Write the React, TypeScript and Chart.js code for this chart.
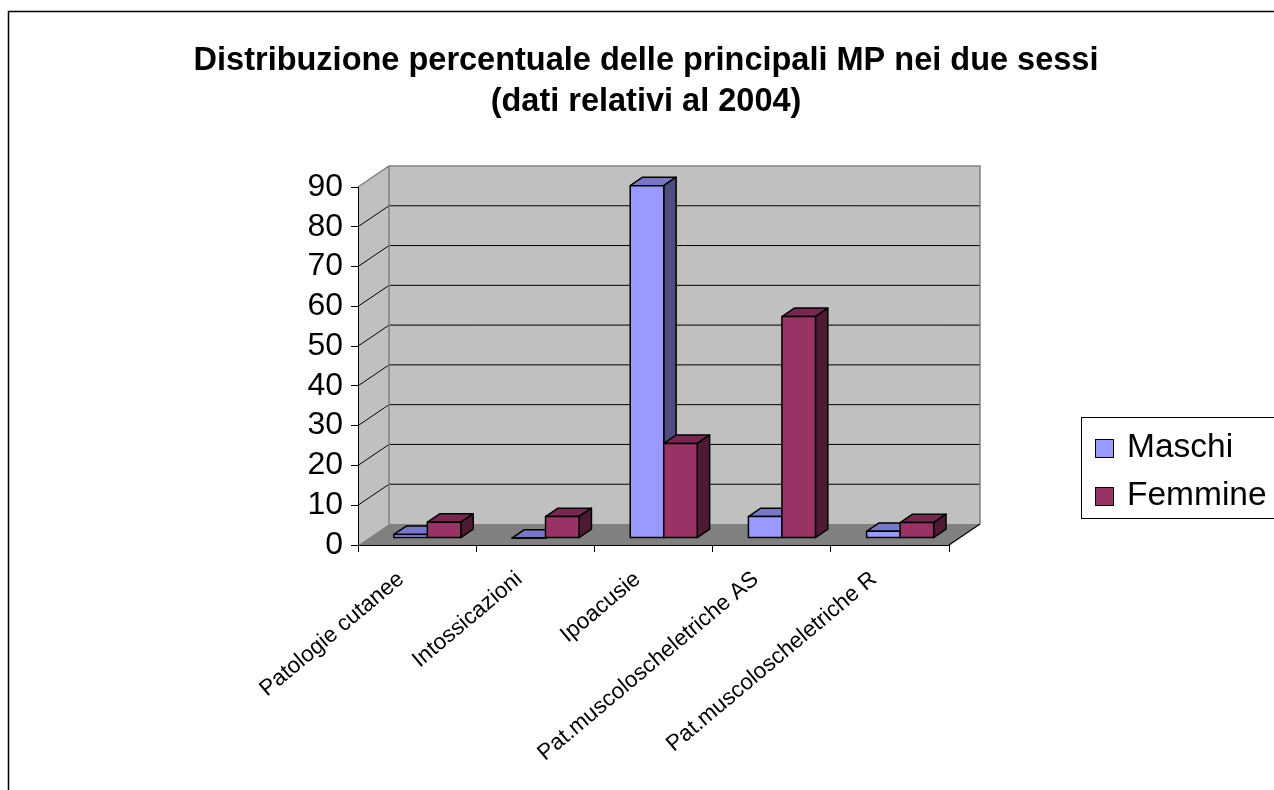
import React, { useEffect, useRef } from "react";
import { Chart, registerables } from "chart.js";

Chart.register(...registerables);

// ---- data ----
const categories = [
  "Patologie cutanee",
  "Intossicazioni",
  "Ipoacusie",
  "Pat.muscoloscheletriche AS",
  "Pat.muscoloscheletriche R",
];
const maschi = [0.9, 0, 88.6, 5.4, 1.7];
const femmine = [4.0, 5.4, 23.8, 55.7, 3.9];
const seriesNames = ["Maschi", "Femmine"];
const seriesColors = ["#9999FF", "#993366"];
const yMax = 90;
const yStep = 10;
const titleLines = [
  "Distribuzione percentuale delle principali MP nei due sessi",
  "(dati relativi al 2004)",
];

// ---- styling / geometry ----
const FONT = '"Liberation Sans", Arial, Helvetica, sans-serif';
const W = 1274;
const H = 790;
const PLOT = { left: 358, right: 949, top: 187, bottom: 545 };
const DEPTH = { x: 31, y: -21 }; // projection of the full floor depth
const BAR_FRONT = 0.33; // fraction of depth where bars start
const BAR_DEPTH = 0.4; // fraction of depth the bars occupy

function shade(hex: string, f: number): string {
  const n = parseInt(hex.slice(1), 16);
  const r = Math.round(((n >> 16) & 255) * f);
  const g = Math.round(((n >> 8) & 255) * f);
  const b = Math.round((n & 255) * f);
  return `rgb(${r},${g},${b})`;
}

function poly(ctx: CanvasRenderingContext2D, pts: number[][]) {
  ctx.beginPath();
  ctx.moveTo(pts[0][0], pts[0][1]);
  for (let i = 1; i < pts.length; i++) ctx.lineTo(pts[i][0], pts[i][1]);
  ctx.closePath();
}

const scene3d = {
  id: "scene3d",
  beforeDraw(chart: any) {
    const { ctx, chartArea: a, scales } = chart;
    const ys = scales.y;
    const dx = DEPTH.x;
    const dy = DEPTH.y;
    ctx.save();

    // outer frame
    ctx.strokeStyle = "#000";
    ctx.lineWidth = 1.5;
    ctx.beginPath();
    ctx.moveTo(8.5, H + 5);
    ctx.lineTo(8.5, 11.5);
    ctx.lineTo(W + 5, 11.5);
    ctx.stroke();

    // back wall
    ctx.fillStyle = "#C0C0C0";
    ctx.fillRect(a.left + dx, a.top + dy, a.right - a.left, a.bottom - a.top);
    // side wall
    poly(ctx, [
      [a.left, a.top],
      [a.left + dx, a.top + dy],
      [a.left + dx, a.bottom + dy],
      [a.left, a.bottom],
    ]);
    ctx.fill();
    // floor
    ctx.fillStyle = "#808080";
    poly(ctx, [
      [a.left, a.bottom],
      [a.right, a.bottom],
      [a.right + dx, a.bottom + dy],
      [a.left + dx, a.bottom + dy],
    ]);
    ctx.fill();

    // gridlines on both walls
    ctx.strokeStyle = "#000";
    ctx.lineWidth = 1;
    ys.ticks.forEach((t: any) => {
      if (t.value <= 0 || t.value >= yMax) return;
      const py = ys.getPixelForValue(t.value);
      ctx.beginPath();
      ctx.moveTo(a.left, py);
      ctx.lineTo(a.left + dx, py + dy);
      ctx.lineTo(a.right + dx, py + dy);
      ctx.stroke();
    });

    // wall outline
    ctx.strokeStyle = "#808080";
    ctx.lineWidth = 1.5;
    ctx.beginPath();
    ctx.moveTo(a.left, a.top);
    ctx.lineTo(a.left + dx, a.top + dy);
    ctx.lineTo(a.right + dx, a.top + dy);
    ctx.lineTo(a.right + dx, a.bottom + dy);
    ctx.moveTo(a.left + dx, a.top + dy);
    ctx.lineTo(a.left + dx, a.bottom + dy);
    ctx.stroke();

    // floor right edge
    ctx.strokeStyle = "#000";
    ctx.lineWidth = 1.2;
    ctx.beginPath();
    ctx.moveTo(a.right, a.bottom);
    ctx.lineTo(a.right + dx, a.bottom + dy);
    ctx.stroke();
    ctx.restore();
  },
  beforeDatasetDraw() {
    return false;
  },
  afterDatasetsDraw(chart: any) {
    const { ctx } = chart;
    const fdx = DEPTH.x * BAR_FRONT;
    const fdy = DEPTH.y * BAR_FRONT;
    const ddx = DEPTH.x * BAR_DEPTH;
    const ddy = DEPTH.y * BAR_DEPTH;
    ctx.save();
    ctx.lineJoin = "round";
    ctx.strokeStyle = "#000";
    ctx.lineWidth = 1.5;
    const n = chart.data.labels.length;
    for (let i = 0; i < n; i++) {
      chart.data.datasets.forEach((ds: any, di: number) => {
        const el = chart.getDatasetMeta(di).data[i];
        const { x, y, base, width } = el.getProps(["x", "y", "base", "width"], true);
        const color = seriesColors[di];
        const x0 = x - width / 2 + fdx;
        const x1 = x + width / 2 + fdx;
        const yt = y + fdy;
        const yb = base + fdy;
        // top
        ctx.fillStyle = shade(color, 0.78);
        poly(ctx, [
          [x0, yt],
          [x1, yt],
          [x1 + ddx, yt + ddy],
          [x0 + ddx, yt + ddy],
        ]);
        ctx.fill();
        ctx.stroke();
        // side
        ctx.fillStyle = shade(color, 0.5);
        poly(ctx, [
          [x1, yt],
          [x1 + ddx, yt + ddy],
          [x1 + ddx, yb + ddy],
          [x1, yb],
        ]);
        ctx.fill();
        ctx.stroke();
        // front
        ctx.fillStyle = color;
        ctx.beginPath();
        ctx.rect(x0, yt, x1 - x0, yb - yt);
        ctx.fill();
        ctx.stroke();
      });
    }
    ctx.restore();
  },
  afterDraw(chart: any) {
    const { ctx } = chart;
    ctx.save();
    // title
    ctx.fillStyle = "#000";
    ctx.textAlign = "center";
    ctx.textBaseline = "alphabetic";
    ctx.font = `bold 32.5px ${FONT}`;
    ctx.fillText(titleLines[0], 646, 70);
    ctx.fillText(titleLines[1], 646, 111);

    // legend
    ctx.strokeStyle = "#000";
    ctx.lineWidth = 1;
    ctx.strokeRect(1081.5, 417.5, 220, 101);
    ctx.font = `33.5px ${FONT}`;
    ctx.textAlign = "left";
    seriesNames.forEach((name, i) => {
      const sy = 439.5 + i * 48;
      ctx.fillStyle = seriesColors[i];
      ctx.fillRect(1095.5, sy, 18, 18);
      ctx.strokeRect(1095.5, sy, 18, 18);
      ctx.fillStyle = "#000";
      ctx.fillText(name, 1127, sy + 17);
    });
    ctx.restore();
  },
};

export default function App() {
  const ref = useRef<HTMLCanvasElement>(null);

  useEffect(() => {
    const canvas = ref.current;
    if (!canvas) return;
    const chart = new Chart(canvas, {
      type: "bar",
      data: {
        labels: categories,
        datasets: [
          { label: seriesNames[0], data: maschi, backgroundColor: seriesColors[0] },
          { label: seriesNames[1], data: femmine, backgroundColor: seriesColors[1] },
        ],
      },
      options: {
        responsive: false,
        animation: false,
        devicePixelRatio: 1,
        events: [],
        layout: {
          padding: { left: 0, top: PLOT.top, right: W - PLOT.right, bottom: 0 },
        },
        datasets: {
          bar: { categoryPercentage: 0.567, barPercentage: 1 },
        },
        plugins: {
          legend: { display: false },
          title: { display: false },
          tooltip: { enabled: false },
        },
        scales: {
          x: {
            afterFit: (s: any) => {
              s.height = H - PLOT.bottom;
            },
            grid: {
              offset: true,
              drawOnChartArea: false,
              color: "#000",
              tickLength: 7,
            },
            border: { color: "#000", width: 1 },
            ticks: {
              color: "#000",
              font: { family: FONT, size: 22.5 },
              minRotation: 40,
              maxRotation: 40,
              padding: 14,
              labelOffset: -16,
              autoSkip: false,
            },
          },
          y: {
            min: 0,
            max: yMax,
            afterFit: (s: any) => {
              s.width = PLOT.left;
            },
            grid: {
              drawOnChartArea: false,
              color: "#000",
              tickLength: 7,
            },
            border: { color: "#000", width: 1 },
            ticks: {
              stepSize: yStep,
              autoSkip: false,
              color: "#000",
              font: { family: FONT, size: 32 },
              padding: 8,
            },
          },
        },
      },
      plugins: [scene3d],
    } as any);
    return () => chart.destroy();
  }, []);

  return (
    <div style={{ position: "fixed", left: 0, top: 0, width: W, height: H, background: "#fff" }}>
      <canvas ref={ref} width={W} height={H} style={{ display: "block", width: W, height: H }} />
    </div>
  );
}
